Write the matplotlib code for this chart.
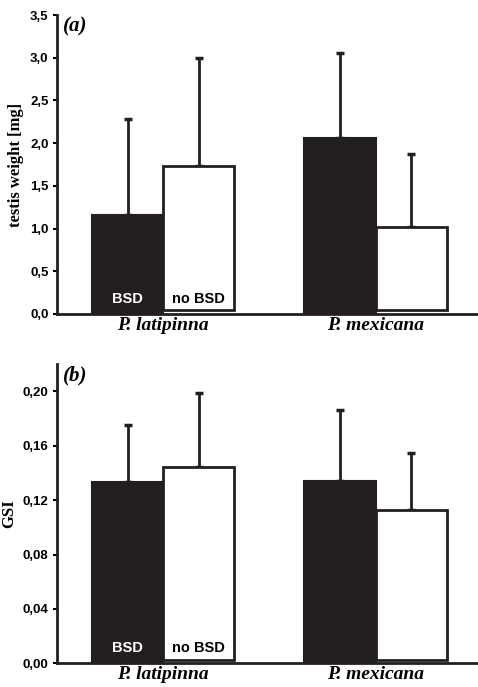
import matplotlib
matplotlib.use("Agg")
import matplotlib.pyplot as plt
import numpy as np

species = ["P. latipinna", "P. mexicana"]
groups = ["BSD", "no BSD"]

testis_mean = {"BSD": [1.16, 2.06], "no BSD": [1.73, 1.02]}
testis_sd = {"BSD": [1.12, 1.00], "no BSD": [1.27, 0.85]}
gsi_mean = {"BSD": [0.133, 0.134], "no BSD": [0.144, 0.113]}
gsi_sd = {"BSD": [0.042, 0.052], "no BSD": [0.055, 0.042]}

testis_ticks = [0.0, 0.5, 1.0, 1.5, 2.0, 2.5, 3.0, 3.5]
gsi_ticks = [0.00, 0.04, 0.08, 0.12, 0.16, 0.20]

BLACK = "#231f20"
sans = "Liberation Sans"
serif = "Liberation Serif"

fig = plt.figure(figsize=(4.78, 6.87), dpi=100)
ax1 = fig.add_axes([0.119, 0.543, 0.889, 0.435])
ax2 = fig.add_axes([0.119, 0.0345, 0.889, 0.4355])


def panel(ax, means, sds, ticks, ymax, fmt, ylabel, tag):
    x = np.arange(len(species))
    w = 0.335
    off = 0.012 * ymax
    for i, g in enumerate(groups):
        xs = x + (i - 0.5) * w
        m = np.array(means[g])
        s = np.array(sds[g])
        if g == "BSD":
            ax.bar(xs, m, width=w, color=BLACK, edgecolor=BLACK, linewidth=1.5, zorder=3)
        else:
            ax.bar(xs, m - off, bottom=off, width=w, color="white", edgecolor=BLACK,
                   linewidth=2.0, zorder=3)
        ax.errorbar(xs, m, yerr=[np.zeros_like(s), s], fmt="none", ecolor=BLACK,
                    elinewidth=2.0, capsize=3, capthick=2.5, zorder=2)
        ax.text(xs[0], 0.028 * ymax, g, ha="center", va="bottom", fontsize=10.5,
                fontweight="bold", family=sans,
                color="white" if g == "BSD" else "black", zorder=4)
    ax.set_xlim(-0.5, 1.5)
    ax.set_ylim(0, ymax)
    ax.set_yticks(ticks)
    ax.set_yticklabels([fmt.format(t).replace(".", ",") for t in ticks],
                       fontsize=9.5, fontweight="bold", family=sans)
    ax.set_xticks(x)
    ax.set_xticklabels(species, fontsize=14, fontweight="bold", style="italic",
                       family=serif)
    ax.tick_params(axis="x", length=0, pad=2)
    ax.tick_params(axis="y", direction="out", length=3, width=1.5, pad=3)
    for sp in ["top", "right"]:
        ax.spines[sp].set_visible(False)
    for sp in ["left", "bottom"]:
        ax.spines[sp].set_linewidth(2.0)
        ax.spines[sp].set_color(BLACK)
    ax.set_ylabel(ylabel, fontsize=12, fontweight="bold", family=serif, labelpad=4)
    ax.text(0.015, 0.995, tag, transform=ax.transAxes, ha="left", va="top",
            fontsize=15, fontweight="bold", style="italic", family=serif)


panel(ax1, testis_mean, testis_sd, testis_ticks, 3.5, "{:.1f}", "testis weight [mg]", "(a)")
panel(ax2, gsi_mean, gsi_sd, gsi_ticks, 0.22, "{:.2f}", "GSI", "(b)")

fig.savefig("out.png", dpi=100)
